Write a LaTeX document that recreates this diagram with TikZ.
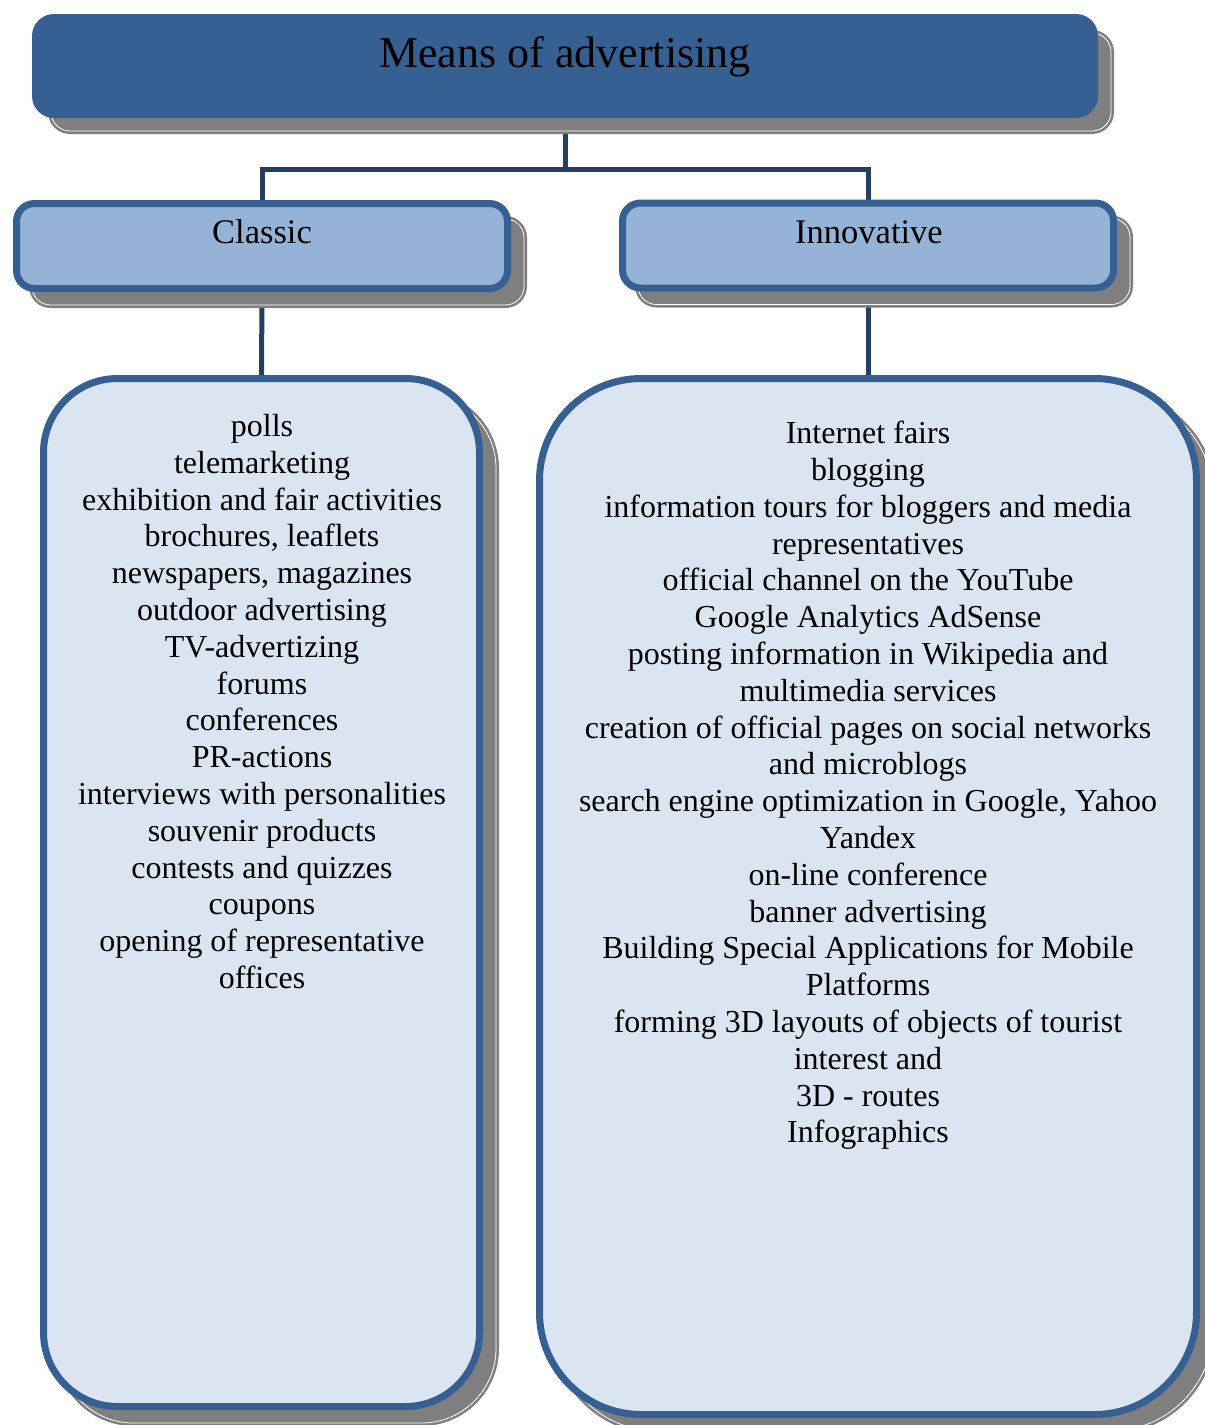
\documentclass[tikz,border=0pt]{standalone}
\usepackage{fontspec}
\setmainfont{Liberation Serif}
\usetikzlibrary{calc}
\definecolor{darkfill}{HTML}{366092}
\definecolor{midfill}{HTML}{95B3D7}
\definecolor{lightfill}{HTML}{DBE5F1}
\definecolor{connc}{HTML}{243F60}
\definecolor{shadowc}{HTML}{7F7F7F}
\pgfdeclarelayer{connlayer}
\pgfdeclarelayer{shadowlayer}
\pgfsetlayers{connlayer,shadowlayer,main}
\newcommand\boxshadow[3]{%
  \fill[shadowc,rounded corners=#2+#3] ($(#1.north west)+(16-#3,16-#3)$) rectangle ($(#1.south east)+(16+#3,16+#3)$);
  \draw[white,line width=0.8pt,rounded corners=#2+#3-3] ($(#1.north west)+(19-#3,19-#3)$) rectangle ($(#1.south east)+(13+#3,13+#3)$);
}
\begin{document}
\begin{tikzpicture}[x=1pt,y=-1pt,
  headbox/.style={rectangle,fill=darkfill,rounded corners=22pt,minimum width=1066pt,minimum height=104pt,inner sep=0pt,outer sep=0pt},
  catbox/.style={rectangle,draw=darkfill,line width=7pt,fill=midfill,rounded corners=18pt,minimum width=491pt,minimum height=85pt,inner sep=0pt,outer sep=0pt},
  listbox/.style={rectangle,draw=darkfill,line width=7pt,fill=lightfill,inner sep=0pt,outer sep=0pt},
  conn/.style={draw=connc,line width=5pt},
  labeltext/.style={inner sep=0pt,font=\fontsize{34.5}{40}\selectfont},
  listtext/.style={inner sep=0pt,align=center,anchor=north,font=\fontsize{32}{36.8}\selectfont}]
\useasboundingbox (0,0) rectangle (1205,1425);
\clip (0,0) rectangle (1205,1425);

% boxes
\node[headbox] (top) at (565,66) {};
\node[catbox] (classic) at (262,246) {};
\node[catbox] (innov) at (868,245.5) {};
\node[listbox,rounded corners=74pt,minimum width=436pt,minimum height=1028pt] (clist) at (261.5,892.5) {};
\node[listbox,rounded corners=102pt,minimum width=657pt,minimum height=1036pt] (ilist) at (868,896.5) {};

% shadows
\begin{pgfonlayer}{shadowlayer}
  \boxshadow{top}{22}{0}
  \boxshadow{classic}{18}{3.5}
  \boxshadow{innov}{18}{3.5}
  \boxshadow{clist}{74}{3.5}
  \boxshadow{ilist}{102}{3.5}
\end{pgfonlayer}

% connectors
\begin{pgfonlayer}{connlayer}
  \coordinate (split) at ($(top.south)+(0,51)$);
  \draw[conn] (top.south) -- (split) -| (classic.north);
  \draw[conn] (split) -| (innov.north);
  \draw[conn] (classic.south) -- (clist.north);
  \draw[conn] (innov.south) -- (ilist.north);
\end{pgfonlayer}

% texts
\node[inner sep=0pt,anchor=base,font=\fontsize{44}{50}\selectfont] (toptext) at (565,67) {Means of advertising};
\node[labeltext,anchor=base] (classictext) at (262,243) {Classic};
\node[labeltext,anchor=base] (innovtext) at (869,243) {Innovative};

\node[listtext] (ctext) at (262,414) {polls\\
telemarketing\\
exhibition and fair activities\\
brochures, leaflets\\
newspapers, magazines\\
outdoor advertising\\
TV-advertizing\\
forums\\
conferences\\
PR-actions\\
interviews with personalities\\
souvenir products\\
contests and quizzes\\
coupons\\
opening of representative\\
offices};

\node[listtext] (itext) at (868,421) {Internet fairs\\
blogging\\
information tours for bloggers and media\\
representatives\\
official channel on the YouTube\\
Google Analytics AdSense\\
posting information in Wikipedia and\\
multimedia services\\
creation of official pages on social networks\\
and microblogs\\
search engine optimization in Google, Yahoo\\
Yandex\\
on-line conference\\
banner advertising\\
Building Special Applications for Mobile\\
Platforms\\
forming 3D layouts of objects of tourist\\
interest and\\
3D - routes\\
Infographics};
\end{tikzpicture}
\end{document}
